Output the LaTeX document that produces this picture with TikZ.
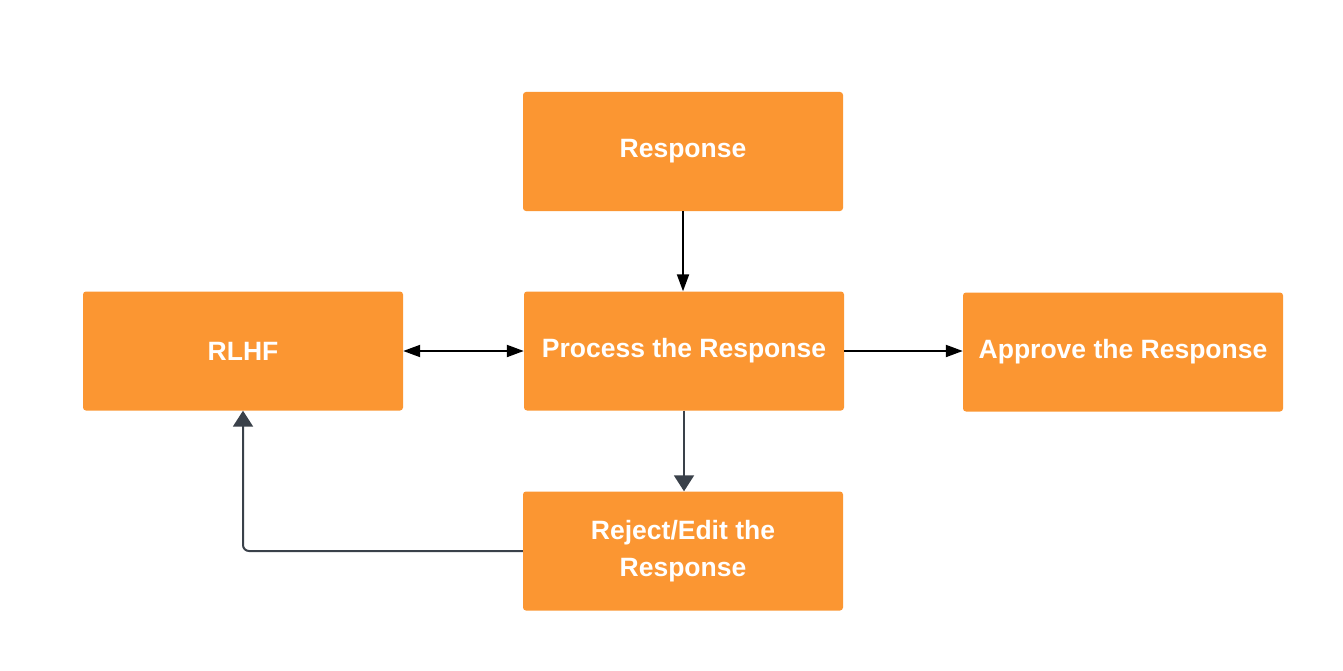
\documentclass[tikz,border=0pt]{standalone}
\usepackage{fontspec}
\setmainfont{Liberation Sans}
\usetikzlibrary{arrows.meta}
\definecolor{boxor}{HTML}{FB9632}
\definecolor{darkline}{HTML}{3A414A}
\begin{document}
\begin{tikzpicture}[x=1pt,y=-1pt,
  box/.style={rectangle, rounded corners=3pt, fill=boxor, draw=none,
    minimum width=320pt, minimum height=119pt, text=white, align=center,
    font=\bfseries\fontsize{26.5}{37}\selectfont},
  blk/.style={draw=black, line width=2pt, -{Triangle[length=17pt,width=12pt]}},
  blkboth/.style={draw=black, line width=2pt, {Triangle[length=17pt,width=12pt]}-{Triangle[length=17pt,width=12pt]}},
  gry/.style={draw=darkline, line width=2pt, -{Triangle[length=16pt,width=20pt]}}
]
\useasboundingbox (0,0) rectangle (1343,671);
\node[box] (resp) at (683,151.5) {Response};
\node[box] (rlhf) at (243,351) {RLHF};
\node[box] (proc) at (684,351) {Process the Response};
\node[box] (appr) at (1123,352) {Approve the Response};
\node[box] (rej) at (683,551) {Reject/Edit the\\Response};
\draw[blk] (resp.south) -- (resp.south |- proc.north);
\draw[blkboth] (rlhf.east) -- (proc.west);
\draw[blk] (proc.east) -- (proc.east -| appr.west);
\draw[gry] (proc.south) -- (proc.south |- rej.north);
\draw[gry, rounded corners=6pt] (rej.west) -| (rlhf.south);
\end{tikzpicture}
\end{document}
